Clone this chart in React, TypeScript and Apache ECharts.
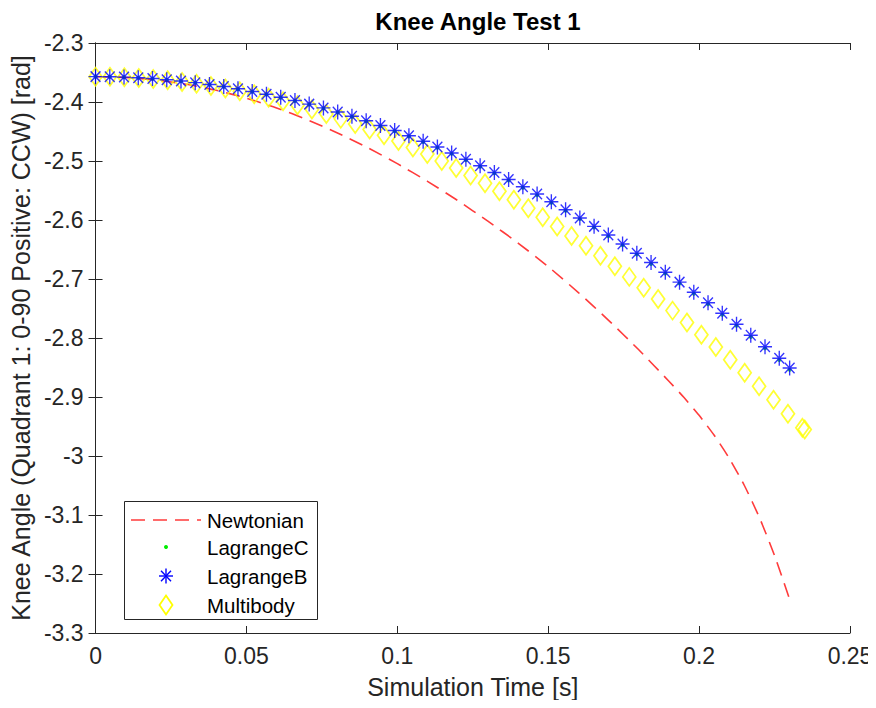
import React, { useEffect, useRef } from "react";
import * as echarts from "echarts";

// ---- Data ----
const newtonTime = [0, 0.01, 0.02, 0.03, 0.04, 0.05, 0.06, 0.07, 0.08, 0.09, 0.1, 0.11, 0.12, 0.13, 0.14, 0.15, 0.16, 0.17, 0.18, 0.19, 0.195, 0.2, 0.205, 0.21, 0.215, 0.22, 0.225, 0.2298];
const newtonValues = [-2.357, -2.3584, -2.3627, -2.3699, -2.3802, -2.3935, -2.41, -2.4297, -2.452, -2.477, -2.5045, -2.5345, -2.567, -2.602, -2.639, -2.679, -2.723, -2.77, -2.82, -2.8732, -2.901, -2.9311, -2.9649, -3.004, -3.05, -3.1045, -3.1688, -3.24];

const lagrangeTime = [0, 0.00472, 0.00944, 0.01416, 0.01888, 0.0236, 0.02832, 0.03304, 0.03776, 0.04248, 0.0472, 0.05192, 0.05664, 0.06136, 0.06608, 0.0708, 0.07552, 0.08024, 0.08496, 0.08968, 0.0944, 0.09912, 0.10384, 0.10856, 0.11328, 0.118, 0.12272, 0.12744, 0.13216, 0.13688, 0.1416, 0.14632, 0.15104, 0.15576, 0.16048, 0.1652, 0.16992, 0.17464, 0.17936, 0.18408, 0.1888, 0.19352, 0.19824, 0.20296, 0.20768, 0.2124, 0.21712, 0.22184, 0.22656, 0.23];
const lagrangeBValues = [-2.357, -2.3572, -2.3578, -2.3589, -2.3603, -2.3622, -2.3645, -2.3672, -2.3703, -2.3738, -2.3777, -2.3821, -2.3868, -2.392, -2.3976, -2.4036, -2.41, -2.4169, -2.4241, -2.4318, -2.4399, -2.4484, -2.4573, -2.4666, -2.4763, -2.4865, -2.4971, -2.508, -2.5194, -2.5313, -2.5435, -2.5561, -2.5692, -2.5826, -2.5965, -2.6108, -2.6255, -2.6406, -2.6562, -2.6721, -2.6885, -2.7053, -2.7225, -2.7401, -2.7581, -2.7766, -2.7954, -2.8147, -2.8344, -2.851];
const lagrangeCValues = [-2.357, -2.3573, -2.358, -2.3591, -2.3606, -2.3625, -2.3649, -2.3676, -2.3708, -2.3743, -2.3783, -2.3827, -2.3875, -2.3927, -2.3984, -2.4044, -2.4109, -2.4178, -2.4251, -2.4328, -2.441, -2.4495, -2.4585, -2.4679, -2.4777, -2.4879, -2.4986, -2.5096, -2.521, -2.533, -2.5452, -2.5579, -2.571, -2.5845, -2.5985, -2.6128, -2.6276, -2.6428, -2.6584, -2.6744, -2.6909, -2.7077, -2.725, -2.7427, -2.7608, -2.7793, -2.7982, -2.8176, -2.8373, -2.854];

const multibodyTime = [0, 0.00478, 0.00956, 0.01434, 0.01912, 0.0239, 0.02868, 0.03346, 0.03824, 0.04302, 0.0478, 0.05258, 0.05736, 0.06214, 0.06692, 0.0717, 0.07648, 0.08126, 0.08604, 0.09082, 0.0956, 0.10038, 0.10516, 0.10994, 0.11472, 0.1195, 0.12428, 0.12906, 0.13384, 0.13862, 0.1434, 0.14818, 0.15296, 0.15774, 0.16252, 0.1673, 0.17208, 0.17686, 0.18164, 0.18642, 0.1912, 0.19598, 0.20076, 0.20554, 0.21032, 0.2151, 0.21988, 0.22466, 0.22944, 0.23422, 0.235];
const multibodyValues = [-2.357, -2.3572, -2.358, -2.3592, -2.361, -2.3632, -2.3659, -2.3691, -2.3729, -2.3771, -2.3818, -2.387, -2.3927, -2.3989, -2.4056, -2.4128, -2.4205, -2.4286, -2.4373, -2.4465, -2.4562, -2.4663, -2.477, -2.4881, -2.4998, -2.5119, -2.5246, -2.5377, -2.5514, -2.5655, -2.5801, -2.5952, -2.6109, -2.627, -2.6436, -2.6607, -2.6783, -2.6964, -2.715, -2.7341, -2.7536, -2.7737, -2.7943, -2.8154, -2.8369, -2.859, -2.8816, -2.9046, -2.9282, -2.9522, -2.955];

const seriesNames = ["Newtonian", "LagrangeC", "LagrangeB", "Multibody"];
const xTickInterval = 0.05;
const yTickInterval = 0.1;

const pair = (t: number[], v: number[]) => t.map((x, i) => [x, v[i]]);

const AXIS = "#262626";
const FONT = "'Liberation Sans', Arial, Helvetica, sans-serif";
const STAR = "path://M10 0 L10 20 M0 10 L20 10 M3 3 L17 17 M3 17 L17 3";

export default function App() {
  const ref = useRef<HTMLDivElement>(null);
  useEffect(() => {
    if (!ref.current) return;
    const chart = echarts.init(ref.current, null, { renderer: "svg" });
    const axisCommon = {
      type: "value" as const,
      splitLine: { show: false },
      axisLine: { show: true, lineStyle: { color: AXIS, width: 1 } },
      axisTick: { show: true, inside: true, length: 7, lineStyle: { color: AXIS, width: 1 } },
    };
    const legendX = 124;
    const legendY = 501;
    const rowY = [520, 547, 576, 605];
    const iconX = 166;
    chart.setOption({
      animation: false,
      backgroundColor: "#fff",
      textStyle: { fontFamily: FONT },
      title: {
        text: "Knee Angle Test 1",
        left: 473,
        top: 4,
        textAlign: "center",
        textStyle: { fontFamily: FONT, fontSize: 24, fontWeight: "bold", color: "#000" },
      },
      grid: { left: 95, right: 26, top: 43, bottom: 75, containLabel: false },
      xAxis: [
        {
          ...axisCommon,
          position: "bottom",
          min: 0,
          max: 0.25,
          interval: xTickInterval,
          axisLabel: { fontSize: 23, color: AXIS, margin: 11, fontFamily: FONT },
          name: "Simulation Time [s]",
          nameLocation: "middle",
          nameGap: 41,
          nameTextStyle: { fontSize: 25, color: AXIS, fontFamily: FONT },
        },
        {
          ...axisCommon,
          position: "top",
          min: 0,
          max: 0.25,
          interval: xTickInterval,
          axisLabel: { show: false },
        },
      ],
      yAxis: [
        {
          ...axisCommon,
          position: "left",
          min: -3.3,
          max: -2.3,
          interval: yTickInterval,
          axisLabel: { fontSize: 23, color: AXIS, margin: 12, fontFamily: FONT },
          name: "Knee Angle (Quadrant 1: 0-90 Positive: CCW) [rad]",
          nameLocation: "middle",
          nameGap: 60,
          nameRotate: 90,
          nameTextStyle: { fontSize: 25, color: AXIS, fontFamily: FONT },
        },
        {
          ...axisCommon,
          position: "right",
          min: -3.3,
          max: -2.3,
          interval: yTickInterval,
          axisLabel: { show: false },
        },
      ],
      series: [
        {
          name: seriesNames[0],
          type: "line",
          data: pair(newtonTime, newtonValues),
          symbol: "none",
          smooth: 0.2,
          lineStyle: { color: "#ff3b3b", width: 1.6, type: [14, 8] },
          z: 2,
        },
        {
          name: seriesNames[3],
          type: "scatter",
          data: pair(multibodyTime, multibodyValues),
          symbol: "diamond",
          symbolSize: [13, 18],
          itemStyle: { color: "rgba(0,0,0,0)", borderColor: "#ffff00", borderWidth: 1.8 },
          z: 3,
        },
        {
          name: seriesNames[1],
          type: "scatter",
          data: pair(lagrangeTime, lagrangeCValues),
          symbol: "circle",
          symbolSize: 4,
          itemStyle: { color: "#00ee00" },
          z: 4,
        },
        {
          name: seriesNames[2],
          type: "scatter",
          data: pair(lagrangeTime, lagrangeBValues),
          symbol: STAR,
          symbolSize: [14, 15],
          itemStyle: { color: "rgba(0,0,0,0)", borderColor: "#0000ff", borderWidth: 1.4 },
          z: 5,
        },
      ],
      graphic: [
        {
          type: "group",
          z: 100,
          children: [
            {
              type: "rect",
              shape: { x: legendX + 0.5, y: legendY + 0.5, width: 193, height: 118 },
              style: { fill: "#fff", stroke: AXIS, lineWidth: 1 },
            },
            {
              type: "line",
              shape: { x1: 131, y1: rowY[0], x2: 201, y2: rowY[0] },
              style: { stroke: "#ff3b3b", lineWidth: 1.6, lineDash: [14, 8] },
            },
            {
              type: "circle",
              shape: { cx: iconX, cy: rowY[1], r: 2 },
              style: { fill: "#00ee00" },
            },
            {
              type: "group",
              x: iconX,
              y: rowY[2],
              children: [
                { type: "line", shape: { x1: 0, y1: -7.5, x2: 0, y2: 7.5 }, style: { stroke: "#0000ff", lineWidth: 1.4 } },
                { type: "line", shape: { x1: -7, y1: 0, x2: 7, y2: 0 }, style: { stroke: "#0000ff", lineWidth: 1.4 } },
                { type: "line", shape: { x1: -5, y1: -5.3, x2: 5, y2: 5.3 }, style: { stroke: "#0000ff", lineWidth: 1.4 } },
                { type: "line", shape: { x1: -5, y1: 5.3, x2: 5, y2: -5.3 }, style: { stroke: "#0000ff", lineWidth: 1.4 } },
              ],
            },
            {
              type: "polygon",
              shape: { points: [[iconX, rowY[3] - 9.5], [iconX + 6.5, rowY[3]], [iconX, rowY[3] + 9.5], [iconX - 6.5, rowY[3]]] },
              style: { fill: "none", stroke: "#ffff00", lineWidth: 1.8 },
            },
            ...seriesNames.map((n, i) => ({
              type: "text",
              x: 207,
              y: rowY[i],
              style: { text: n, fontSize: 20.5, fontFamily: FONT, fill: "#000", textVerticalAlign: "middle", verticalAlign: "middle" },
            })),
          ],
        },
      ],
    });
    return () => chart.dispose();
  }, []);
  return <div ref={ref} style={{ width: 876, height: 708, margin: -8 }} />;
}
